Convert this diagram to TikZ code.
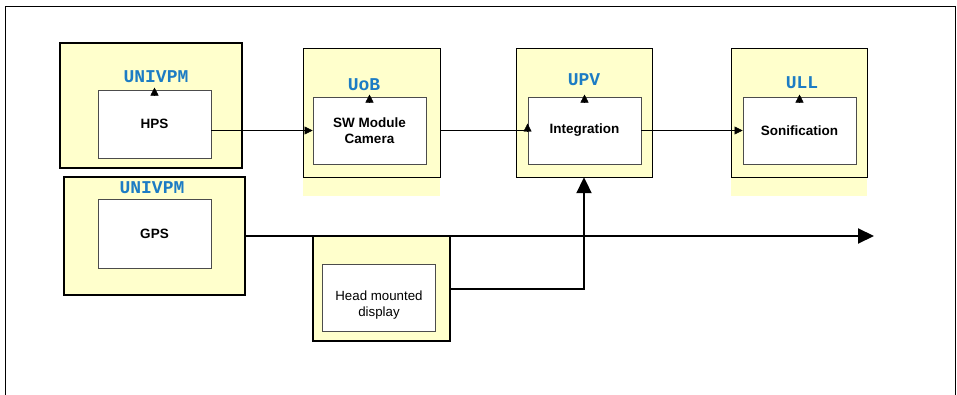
\documentclass[tikz,border=0pt]{standalone}
\usepackage{fontspec}
\setmainfont{Liberation Sans}
\newfontfamily\monofam{Liberation Mono}
\usetikzlibrary{arrows.meta}
\definecolor{paleyellow}{HTML}{FFFFCC}
\definecolor{partnerblue}{HTML}{1C7CC4}

\begin{document}
\begin{tikzpicture}[x=1pt, y=-1pt, >=Triangle,
  unit/.style={rectangle, draw, fill=paleyellow, minimum width=137pt, minimum height=129pt, inner sep=0pt},
  thickunit/.style={unit, line width=1.8pt},
  task/.style={rectangle, draw=black!70, fill=white, line width=0.9pt, minimum width=113pt, minimum height=67pt, align=center, font=\fontsize{13.5}{15.5}\selectfont\bfseries},
  partner/.style={font=\monofam\fontsize{18}{18}\selectfont\bfseries, text=partnerblue, inner sep=1pt},
  small/.style={-{Triangle[length=8pt, width=8pt]}},
  bus/.style={line width=2pt, -{Triangle[length=16pt, width=15pt]}}]
  \useasboundingbox (0,0) rectangle (957,395);
  \draw[line width=1pt] (5,400) -- (5,7) -- (955,7) -- (955,400);
  % yellow strips under two of the partner boxes
  \fill[paleyellow] (303,170) rectangle (440,196);
  \fill[paleyellow] (731,170) rectangle (867,196);
  % partner boxes
  \node[thickunit, minimum width=182pt, minimum height=125pt] (hpsbox) at (151,105.5) {};
  \node[unit] (uobbox) at (371.5,112.5) {};
  \node[unit, minimum width=136pt] (upvbox) at (584,112.5) {};
  \node[unit, minimum width=136pt] (ullbox) at (799,112.5) {};
  \node[thickunit, minimum width=181pt, minimum height=118pt] (gpsbox) at (154.5,236) {};
  \node[thickunit, minimum height=105pt] (hmdbox) at (381.5,288.5) {};
  % tasks
  \node[task, minimum height=68pt] (hps) at (154.5,124) {HPS};
  \node[task] (sw) at (369.5,130.5) {SW Module\\Camera};
  \node[task] (integ) at (584.5,130.5) {Integration};
  \node[task] (son) at (799.5,130.5) {Sonification};
  \node[task, minimum height=69pt] (gps) at (154.5,233.5) {GPS};
  \node[task, font=\fontsize{13.3}{16}\selectfont] (hmd) at (379,298) {\rule{0pt}{24pt}Head mounted\\display};
  % partner names
  \node[partner] (l1) at (156,77) {UNIVPM};
  \node[partner] (l2) at (364,85) {UoB};
  \node[partner] (l3) at (584,80) {UPV};
  \node[partner] (l4) at (802,83) {ULL};
  \node[partner] (l5) at (152,188) {UNIVPM};
  \foreach \t in {hps,sw,integ,son}
    \draw[small] ([yshift=-6pt]\t.north) -- ([yshift=2pt]\t.north);
  % flow
  \draw[small] (hps.east |- sw.west) -- (sw.west);
  \draw (uobbox.east |- sw.east) -- (integ.west);
  \draw[small] ([yshift=-1pt]integ.west) -- ([yshift=7pt]integ.west);
  \draw[small] (integ.east) -- (son.west);
  \coordinate (busend) at (874,236);
  \draw[bus] (gpsbox.east) -- (busend);
  \draw[bus] (hmdbox.east) -| (upvbox.south);
\end{tikzpicture}
\end{document}
